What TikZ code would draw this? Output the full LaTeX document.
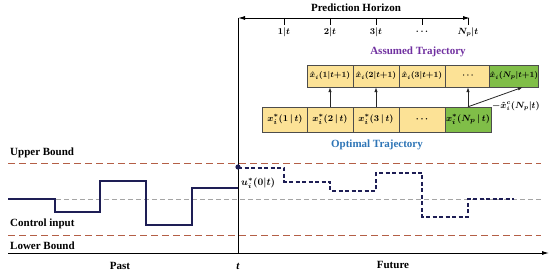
\documentclass[tikz,border=0pt]{standalone}
\usepackage{fontspec}
\setmainfont{Liberation Serif}
\usetikzlibrary{arrows.meta,calc}
\definecolor{boxyellow}{RGB}{252,226,150}
\definecolor{boxgreen}{RGB}{128,190,72}
\definecolor{boundred}{RGB}{180,95,70}
\definecolor{midgray}{RGB}{165,165,165}
\definecolor{navy}{RGB}{30,30,85}
\definecolor{assumed}{RGB}{112,48,160}
\definecolor{optimal}{RGB}{46,117,182}
\tikzset{
  ybox/.style={draw=black!70,fill=boxyellow,minimum width=46pt,inner sep=0pt},
  gbox/.style={ybox,fill=boxgreen},
  upbox/.style={minimum height=22pt,font=\fontsize{8.3}{8.3}\selectfont\boldmath},
  lowbox/.style={minimum height=25pt,font=\fontsize{9.5}{9.5}\selectfont\boldmath},
  conn/.style={-{Latex[length=5pt,width=3.5pt]},line width=0.8pt,black!85},
  lbl/.style={font=\bfseries\fontsize{11}{11}\selectfont,inner sep=0pt},
  tick/.style={font=\fontsize{9}{9}\selectfont\boldmath,inner sep=0pt},
  bound/.style={boundred,dash pattern=on 7pt off 4pt,line width=0.9pt},
  mid/.style={midgray,dash pattern=on 5pt off 3pt,line width=0.6pt},
  past/.style={navy,line width=1.1pt},
  fut/.style={navy,line width=1.1pt,dash pattern=on 4pt off 2.5pt},
  axis/.style={black,line width=0.9pt}
}
\begin{document}
\begin{tikzpicture}[x=1pt,y=-1pt]
\useasboundingbox (0,0) rectangle (550,275);
% bounds
\draw[bound] (8,163) -- (541,163);
\draw[bound] (8,235) -- (541,235);
\draw[mid] (8,199) -- (541,199);
% past control input
\draw[past] (8,199) -- (55,199) -- (55,212) -- (100,212) -- (100,181) -- (146,181) -- (146,225) -- (192,225) -- (192,188) -- (238,188);
% future control input
\draw[fut] (238,168) -- (284,168) -- (284,182) -- (330,182) -- (330,191) -- (376,191) -- (376,173) -- (422,173) -- (422,217) -- (468,217) -- (468,199) -- (514,199);
% axes
\coordinate (origin) at (238,253);
\coordinate (top) at (238,18);
\coordinate (xstart) at (8,253);
\coordinate (xend) at (549,253);
\coordinate (hend) at (470,18);
\draw[axis,-{Latex[length=7pt,width=4pt]}] (xstart) -- (xend);
\draw[axis] (origin) -- (top);
\draw[axis,{Latex[length=7pt,width=4pt]}-{Latex[length=7pt,width=4pt]}] (top) -- (hend);
\foreach \x/\t in {284/1|t,330/2|t,376/3|t,422/\dots,468/N_p|t}{
  \draw[axis] (\x,18) -- (\x,25);
  \node[tick] at (\x,32) {$\t$};
}
\fill[navy] (238,167) circle (2.6pt);
% labels
\node[lbl] (ph) at (356,8) {Prediction Horizon};
\node[lbl,text=assumed] (at) at (418,52) {Assumed Trajectory};
\node[lbl,text=optimal] (ot) at (377,145) {Optimal Trajectory};
\node[lbl,anchor=west] (ub) at (10,153) {Upper Bound};
\node[lbl,anchor=west] (ci) at (10,224) {Control input};
\node[lbl,anchor=west] (lb) at (10,246) {Lower Bound};
\node[lbl] (past) at (120,266) {Past};
\node[lbl] (tt) at (238,266) {\textbf{\itshape t}};
\node[lbl] (fut) at (393,265) {Future};
\node[tick,anchor=west,font=\fontsize{10}{10}\selectfont\boldmath] (u0) at (241,183) {$u_i^*(0|t)$};
% upper boxes
\node[ybox,upbox] (u1) at (330,76) {$\hat{x}_i(1|t{+}1)$};
\node[ybox,upbox] (u2) at (376,76) {$\hat{x}_i(2|t{+}1)$};
\node[ybox,upbox] (u3) at (422,76) {$\hat{x}_i(3|t{+}1)$};
\node[ybox,upbox] (u4) at (468,76) {$\cdots$};
\node[gbox,upbox] (u5) at (514,76) {$\hat{x}_i(N_p|t{+}1)$};
% lower boxes
\node[ybox,lowbox] (l1) at (285,119.5) {$x_i^*(1\,|\,t)$};
\node[ybox,lowbox] (l2) at (330,119.5) {$x_i^*(2\,|\,t)$};
\node[ybox,lowbox] (l3) at (376,119.5) {$x_i^*(3\,|\,t)$};
\node[ybox,lowbox] (l4) at (422,119.5) {$\cdots$};
\node[gbox,lowbox] (l5) at (468,119.5) {$x_i^*(N_p\,|\,t)$};
% connectors
\draw[conn] (l5.north) -- (u4.south);
\draw[conn] (l2.north) -- (u1.south);
\draw[conn] (l3.north) -- (u2.south);
\coordinate (u5in) at ($(u5.south west)!0.68!(u5.south east)$);
\draw[conn] (l5.north) -- (u5in);
\node[tick,anchor=west,font=\fontsize{9}{9}\selectfont\boldmath] (xc) at (492,106) {$-\hat{x}_i^c(N_p|t)$};
\end{tikzpicture}
\end{document}
